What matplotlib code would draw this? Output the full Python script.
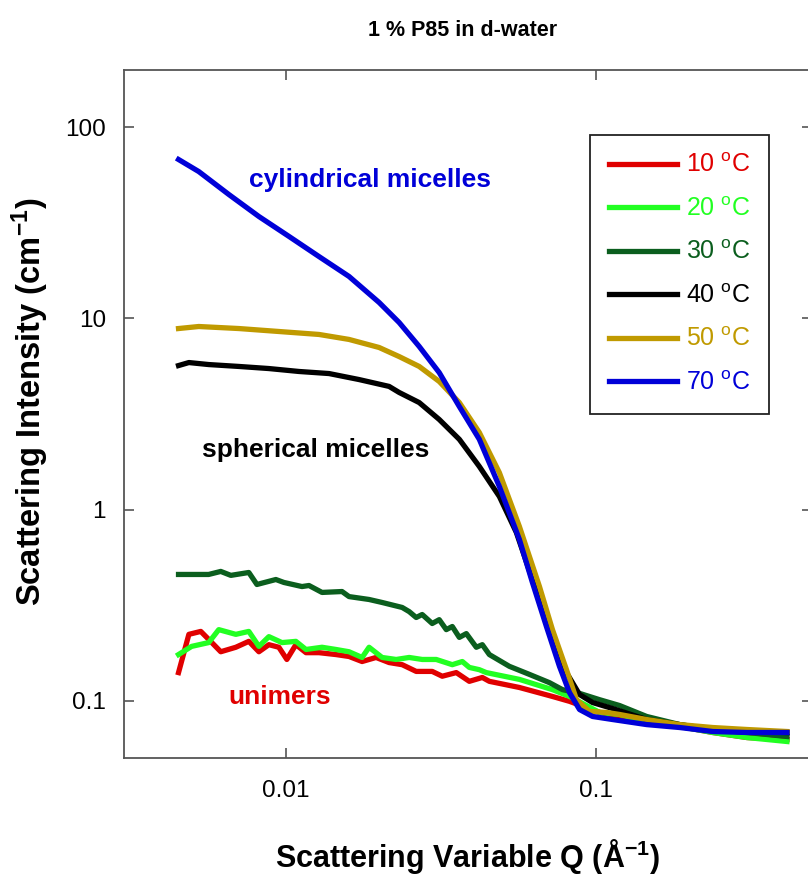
import matplotlib
matplotlib.use('Agg')
import matplotlib.pyplot as plt
from matplotlib.ticker import NullLocator

plt.rcParams['font.family'] = ['Liberation Sans', 'DejaVu Sans']
plt.rcParams['mathtext.fontset'] = 'custom'
plt.rcParams['mathtext.rm'] = 'Liberation Sans'
plt.rcParams['mathtext.bf'] = 'Liberation Sans:bold'

# 10 C
q10 = [0.00450, 0.00486, 0.00531, 0.00563, 0.00616, 0.00689, 0.00759, 0.00818, 0.00881, 0.00949,
       0.01007, 0.01077, 0.01161, 0.01279, 0.01451, 0.01599, 0.01762, 0.01955, 0.02154, 0.02374,
       0.02635, 0.02968, 0.03198, 0.03550, 0.03911, 0.04308, 0.04539, 0.05675, 0.07257, 0.08238,
       0.1030, 0.1196, 0.1462, 0.1870, 0.2390, 0.3081, 0.4151]
i10 = [0.140, 0.222, 0.230, 0.209, 0.180, 0.190, 0.204, 0.180, 0.196, 0.190,
       0.164, 0.196, 0.178, 0.178, 0.174, 0.170, 0.160, 0.168, 0.158, 0.154,
       0.142, 0.142, 0.134, 0.140, 0.126, 0.132, 0.126, 0.117, 0.105, 0.099,
       0.0866, 0.0825, 0.0776, 0.0731, 0.0680, 0.0640, 0.0625]

# 20 C
q20 = [0.00450, 0.00496, 0.00563, 0.00607, 0.00689, 0.00759, 0.00818, 0.00881, 0.00971, 0.01077,
       0.01161, 0.01308, 0.01451, 0.01599, 0.01762, 0.01856, 0.02045, 0.02270, 0.02501, 0.02755,
       0.03058, 0.03446, 0.03713, 0.03911, 0.04213, 0.04438, 0.05675, 0.07257, 0.08238,
       0.1030, 0.1196, 0.1462, 0.1870, 0.2390, 0.3081, 0.4151]
i20 = [0.174, 0.192, 0.201, 0.235, 0.222, 0.230, 0.192, 0.216, 0.201, 0.204,
       0.185, 0.190, 0.185, 0.180, 0.168, 0.190, 0.168, 0.164, 0.168, 0.164,
       0.164, 0.154, 0.160, 0.149, 0.145, 0.140, 0.129, 0.114, 0.105,
       0.0866, 0.0845, 0.0776, 0.0731, 0.0680, 0.0640, 0.0610]

# 30 C
q30 = [0.00450, 0.00563, 0.00616, 0.00664, 0.00759, 0.00806, 0.00928, 0.00985, 0.01127, 0.01187,
       0.01308, 0.01518, 0.01599, 0.01856, 0.02045, 0.02374, 0.02501, 0.02635, 0.02755, 0.02968,
       0.03127, 0.03295, 0.03446, 0.03631, 0.03825, 0.04120, 0.04308, 0.04539, 0.05267, 0.06114,
       0.07097, 0.07818, 0.08875, 0.1030, 0.1196, 0.1462, 0.1870, 0.2390, 0.3081, 0.4151]
i30 = [0.457, 0.457, 0.474, 0.452, 0.468, 0.405, 0.430, 0.415, 0.395, 0.400,
       0.368, 0.372, 0.350, 0.338, 0.326, 0.307, 0.292, 0.272, 0.282, 0.253,
       0.265, 0.235, 0.244, 0.214, 0.224, 0.190, 0.196, 0.174, 0.151, 0.137,
       0.124, 0.114, 0.109, 0.101, 0.0941, 0.0825, 0.0748, 0.0705, 0.0680, 0.0648]

# 40 C
q40 = [0.00450, 0.00486, 0.00563, 0.00705, 0.00881, 0.01102, 0.01378, 0.01723, 0.02154, 0.02321,
       0.02694, 0.03127, 0.03631, 0.04213, 0.04890, 0.05549, 0.06252, 0.07097, 0.08055, 0.08875,
       0.09779, 0.1135, 0.1462, 0.1870, 0.2390, 0.3081, 0.4151]
i40 = [5.67, 5.88, 5.74, 5.61, 5.47, 5.28, 5.15, 4.79, 4.41, 4.10,
       3.63, 2.96, 2.33, 1.68, 1.17, 0.758, 0.430, 0.244, 0.140, 0.1075,
       0.0976, 0.0908, 0.0795, 0.0748, 0.0705, 0.0688, 0.0680]

# 50 C
q50 = [0.00450, 0.00523, 0.00705, 0.00949, 0.01279, 0.01599, 0.02000, 0.02321, 0.02694, 0.03127,
       0.03631, 0.04213, 0.04890, 0.05675, 0.06589, 0.07257, 0.08055, 0.08679, 0.09563, 0.1085,
       0.1196, 0.1462, 0.1870, 0.2390, 0.3081, 0.4151]
i50 = [8.86, 9.08, 8.86, 8.55, 8.25, 7.77, 7.05, 6.32, 5.61, 4.68,
       3.63, 2.53, 1.56, 0.815, 0.395, 0.235, 0.145, 0.101, 0.0876, 0.0866,
       0.0845, 0.0795, 0.0748, 0.0722, 0.0705, 0.0688]

# 70 C
q70 = [0.00450, 0.00523, 0.00654, 0.00818, 0.01023, 0.01279, 0.01599, 0.02000, 0.02321, 0.02694,
       0.03127, 0.03631, 0.04213, 0.04890, 0.05675, 0.06252, 0.06939, 0.07645, 0.08238, 0.08875,
       0.09779, 0.1135, 0.1462, 0.1870, 0.2390, 0.3081, 0.4151]
i70 = [68.0, 58.8, 44.6, 34.2, 26.9, 21.1, 16.6, 12.13, 9.53, 7.14,
       5.21, 3.46, 2.33, 1.32, 0.697, 0.415, 0.244, 0.151, 0.110, 0.0897,
       0.0825, 0.0795, 0.0748, 0.0722, 0.0688, 0.0680, 0.0680]

series = [(q10, i10, '10', '#e00000'),
          (q20, i20, '20', '#22ff22'),
          (q30, i30, '30', '#0b5e1e'),
          (q40, i40, '40', '#000000'),
          (q50, i50, '50', '#c09a00'),
          (q70, i70, '70', '#0000d8')]

fig = plt.figure(figsize=(8.08, 8.77), dpi=100)
ax = fig.add_axes([124/808, 119/877, 688/808, 688/877])

for q, inten, t, c in series:
    ax.plot(q, inten, '-', color=c, lw=3.8, label=t + r' $^{\mathrm{o}}$C', solid_joinstyle='round')

ax.set_xscale('log')
ax.set_yscale('log')
ax.set_xlim(0.003, 0.5)
ax.set_ylim(0.05, 200)
ax.xaxis.set_minor_locator(NullLocator())
ax.yaxis.set_minor_locator(NullLocator())
ax.set_xticks([0.01, 0.1], ['0.01', '0.1'])
ax.set_yticks([0.1, 1, 10, 100], ['0.1', '1', '10', '100'])
ax.tick_params(direction='in', length=7.5, width=1.2, color='#555555', labelsize=17.5,
               top=True, right=True)
ax.tick_params(axis='y', pad=13)
ax.tick_params(axis='x', pad=16)
for s in ax.spines.values():
    s.set_color('#555555')
    s.set_linewidth(1.3)

ax.text(0.00759, 53.4, 'cylindrical micelles', color='#0000d8', fontsize=19,
        fontweight='bold', ha='left', va='center')
ax.text(0.00535, 2.04, 'spherical micelles', color='black', fontsize=19,
        fontweight='bold', ha='left', va='center')
ax.text(0.00654, 0.1037, 'unimers', color='#e00000', fontsize=19,
        fontweight='bold', ha='left', va='center')

leg = ax.legend(loc='upper left', bbox_to_anchor=(0.677, 0.906), borderaxespad=0,
                fontsize=18, labelcolor='linecolor', handlelength=2.75, handletextpad=0.35,
                labelspacing=0.78, fancybox=False, framealpha=1, borderpad=0.75)
leg.get_frame().set_edgecolor('#222222')
leg.get_frame().set_linewidth(1.3)

fig.text(463/808, 1 - 30/877, '1 % P85 in d-water', fontsize=15.5, fontweight='bold',
         ha='center', va='center')
fig.text(468/808, 1 - 857/877, r'Scattering Variable Q ($\mathbf{\AA^{-1}}$)', fontsize=22,
         fontweight='bold', ha='center', va='center')
fig.text(30/808, 1 - 402/877, r'Scattering Intensity (cm$\mathbf{^{-1}}$)', fontsize=23.5,
         fontweight='bold', ha='center', va='center', rotation=90)

fig.savefig('out.png', dpi=100)
